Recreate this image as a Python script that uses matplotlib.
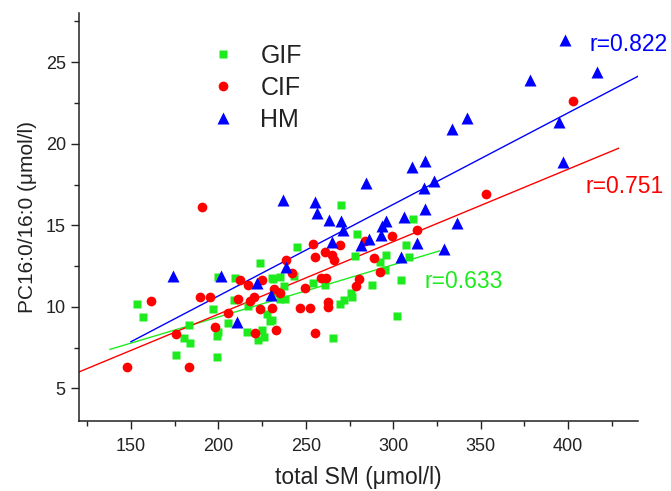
import matplotlib
matplotlib.use("Agg")
import matplotlib.pyplot as plt
from matplotlib.ticker import MultipleLocator

plt.rcParams['font.family'] = ['Liberation Sans', 'DejaVu Sans']

# ---------------- data ----------------
gif_x = [153.5, 157, 175.5, 183, 180.5, 184, 197, 199, 200, 199, 200, 205.5, 209.5, 209,
         216.5, 217, 222.5, 224, 224.8, 226, 228, 229.5, 231, 232, 235.5, 235.5, 238, 237.5,
         245, 243.5, 254, 261, 265.7, 270.3, 269.5, 272, 276, 276.5, 278, 279, 287.7, 292.5,
         295.3, 295.9, 302, 304.3, 307.3, 309.2, 311.1, 230.5, 230.8]
gif_y = [10.2, 9.37, 7.05, 8.88, 8.1, 7.8, 9.85, 8.2, 8.45, 6.94, 11.82, 9.0, 11.78, 10.4,
         8.43, 10.02, 7.98, 12.66, 8.6, 8.15, 9.55, 9.1, 11.7, 10.85, 11.85, 10.45, 10.5, 11.3,
         13.68, 11.9, 11.45, 11.33, 8.07, 16.25, 10.15, 10.4, 10.85, 10.6, 13.1, 14.48, 11.33, 12.76,
         12.25, 13.2, 9.45, 11.63, 13.82, 13.06, 15.37, 9.19, 11.74]

cif_x = [147.5, 161.5, 176, 183, 190.5, 189.7, 195.2, 198, 205.5, 211, 212.5, 217, 218.3,
         220.5, 221, 224, 225, 230.8, 232, 232.8, 235.1, 238.8, 242, 246.8, 249.5, 252.6,
         255, 254.2, 255.2, 260.7, 258.8, 261.3, 262.6, 262.6, 265, 266, 269.8, 278.5, 280.6,
         283.8, 289, 292.3, 299.2, 313.4, 352.9, 402.7]
cif_y = [6.3, 10.33, 8.33, 6.29, 16.1, 10.63, 10.58, 8.75, 9.62, 10.5, 11.62, 11.35, 10.38,
         10.6, 8.38, 9.84, 11.65, 9.95, 11.1, 8.6, 10.82, 12.86, 12.1, 9.92, 11.14, 9.9,
         8.41, 13.83, 13.08, 13.35, 11.76, 11.74, 10.32, 10.0, 13.15, 12.88, 13.76, 11.3, 11.68,
         14.05, 12.98, 12.15, 14.33, 14.72, 16.9, 22.6]

hm_x = [174, 201.5, 210.5, 222, 230.3, 238.6, 237, 255.2, 256.4, 263, 265, 270.2, 271.4,
        281.6, 284.4, 286.2, 293, 293.4, 295.9, 304.7, 306.4, 310.7, 313.4, 318, 317.3, 318.3,
        323.1, 329, 333.3, 336.5, 342.1, 377.9, 394.8, 397.2, 398.3, 416.3]
hm_y = [11.9, 11.88, 9.06, 11.45, 10.72, 12.47, 16.52, 16.43, 15.76, 15.35, 13.95, 15.26, 14.74,
        13.82, 17.6, 14.13, 14.41, 14.95, 15.29, 13.03, 15.51, 18.55, 13.92, 18.93, 17.27, 16.02,
        17.72, 13.53, 20.88, 15.12, 21.59, 23.9, 21.33, 18.9, 26.37, 24.4]

# regression lines (end points)
gif_fit_x = [138, 326.5]
gif_fit_y = [7.39, 13.43]
cif_fit_x = [120.6, 428.8]
cif_fit_y = [6.02, 19.72]
hm_fit_x = [150.0, 440.0]
hm_fit_y = [7.86, 24.14]

labels = ['GIF', 'CIF', 'HM']
r_labels = ['r=0.633', 'r=0.751', 'r=0.822']
r_pos_x = [317.6, 409.7, 412.0]
r_pos_y = [11.57, 17.39, 26.09]

x_ticks = [150, 200, 250, 300, 350, 400]
y_ticks = [5, 10, 15, 20, 25]

# ---------------- styling ----------------
GREEN = '#1EEB1E'
RED = '#FF0000'
BLUE = '#0000FF'
DARK = '#222222'

fig = plt.figure(figsize=(6.71, 4.91), dpi=100)
ax = fig.add_axes([0.1177, 0.1426, 0.8333, 0.8304])

ax.plot(gif_fit_x, gif_fit_y, color=GREEN, lw=1.0, zorder=2)
ax.plot(cif_fit_x, cif_fit_y, color=RED, lw=1.0, zorder=2)
ax.plot(hm_fit_x, hm_fit_y, color=BLUE, lw=1.0, zorder=2)

h1, = ax.plot(gif_x, gif_y, 's', color=GREEN, ms=6, mec='none', label=labels[0], zorder=3)
h2, = ax.plot(cif_x, cif_y, 'o', color=RED, ms=7, mec='none', label=labels[1], zorder=3)
h3, = ax.plot(hm_x, hm_y, '^', color=BLUE, ms=8, mec='none', label=labels[2], zorder=4)

for t, xx, yy, c in zip(r_labels, r_pos_x, r_pos_y, [GREEN, RED, BLUE]):
    ax.text(xx, yy, t, color=c, fontsize=16.5, ha='left', va='center', clip_on=False)

ax.set_xlim(120.3, 440)
ax.set_ylim(3, 28)
ax.set_xticks(x_ticks)
ax.set_yticks(y_ticks)
ax.xaxis.set_minor_locator(MultipleLocator(25))
ax.yaxis.set_minor_locator(MultipleLocator(2.5))

for s in ['top', 'right']:
    ax.spines[s].set_visible(False)
for s in ['left', 'bottom']:
    ax.spines[s].set_linewidth(1.1)
    ax.spines[s].set_color(DARK)

ax.tick_params(which='major', direction='out', length=6, width=1.0, colors=DARK,
               labelsize=13)
ax.tick_params(which='minor', direction='out', length=3.5, width=1.0, colors=DARK)
ax.tick_params(axis='x', which='major', pad=6)
ax.tick_params(axis='y', which='major', pad=3.5)

ax.set_xlabel('total SM (μmol/l)', fontsize=16.5, color=DARK, labelpad=8)
ax.set_ylabel('PC16:0/16:0 (μmol/l)', fontsize=15, color=DARK, labelpad=6)

leg = ax.legend(handles=[h1, h2, h3], loc='upper left', bbox_to_anchor=(0.235, 0.925),
                frameon=False, fontsize=18, handlelength=1.0, handletextpad=1.0,
                labelspacing=0.32, borderpad=0, borderaxespad=0)
for t in leg.get_texts():
    t.set_color(DARK)

fig.savefig('out.png', dpi=100)
